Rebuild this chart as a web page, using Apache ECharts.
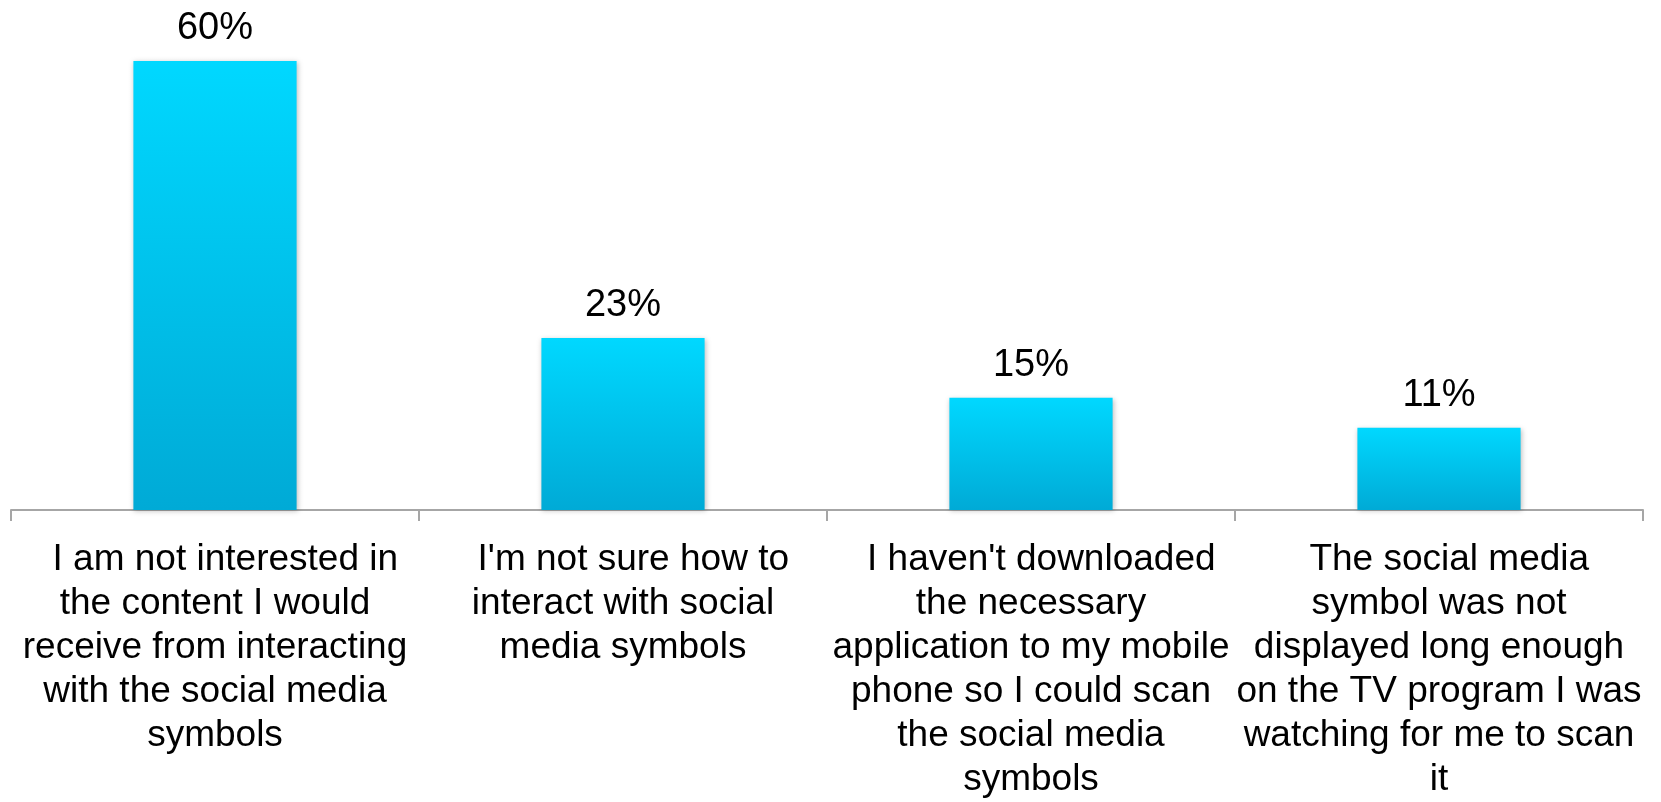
<!DOCTYPE html>
<html>
<head>
<meta charset="utf-8">
<script src="https://cdn.jsdelivr.net/npm/echarts@6/dist/echarts.min.js"></script>
<style>
html,body{margin:0;padding:0;background:#fff;}
#chart{width:1661px;height:802px;}
</style>
</head>
<body>
<div id="chart"></div>
<script>
const categories = [
  "  I am not interested in\nthe content I would\nreceive from interacting\nwith the social media\nsymbols",
  "  I'm not sure how to\ninteract with social\nmedia symbols",
  "  I haven't downloaded\nthe necessary\napplication to my mobile\nphone so I could scan\nthe social media\nsymbols",
  "  The social media\nsymbol was not\ndisplayed long enough\non the TV program I was\nwatching for me to scan\nit"
];
const values = [60, 23, 15, 11];

const chart = echarts.init(document.getElementById('chart'));
chart.setOption({
  animation: false,
  backgroundColor: '#ffffff',
  grid: { left: 11, right: 18, top: 61, bottom: 291, containLabel: false },
  xAxis: {
    type: 'category',
    data: categories,
    boundaryGap: true,
    axisLine: { show: true, lineStyle: { color: '#a6a6a6', width: 2 } },
    axisTick: { show: true, length: 11, lineStyle: { color: '#a6a6a6', width: 2 } },
    axisLabel: {
      interval: 0,
      color: '#000000',
      fontFamily: 'Liberation Sans, Arial, sans-serif',
      fontSize: 37,
      lineHeight: 44,
      margin: 28,
      align: 'center'
    }
  },
  yAxis: {
    type: 'value',
    min: 0,
    max: 60,
    show: false,
    splitLine: { show: false }
  },
  series: [{
    type: 'bar',
    data: values,
    barCategoryGap: '60%',
    itemStyle: {
      color: new echarts.graphic.LinearGradient(0, 0, 0, 1, [
        { offset: 0, color: '#00d8ff' },
        { offset: 1, color: '#00aad6' }
      ]),
      shadowBlur: 5,
      shadowColor: 'rgba(0,0,0,0.25)',
      shadowOffsetX: 1,
      shadowOffsetY: 1
    },
    label: {
      show: true,
      position: 'top',
      distance: 13,
      formatter: '{c}%',
      color: '#000000',
      fontFamily: 'Liberation Sans, Arial, sans-serif',
      fontSize: 38
    }
  }]
});
</script>
</body>
</html>
